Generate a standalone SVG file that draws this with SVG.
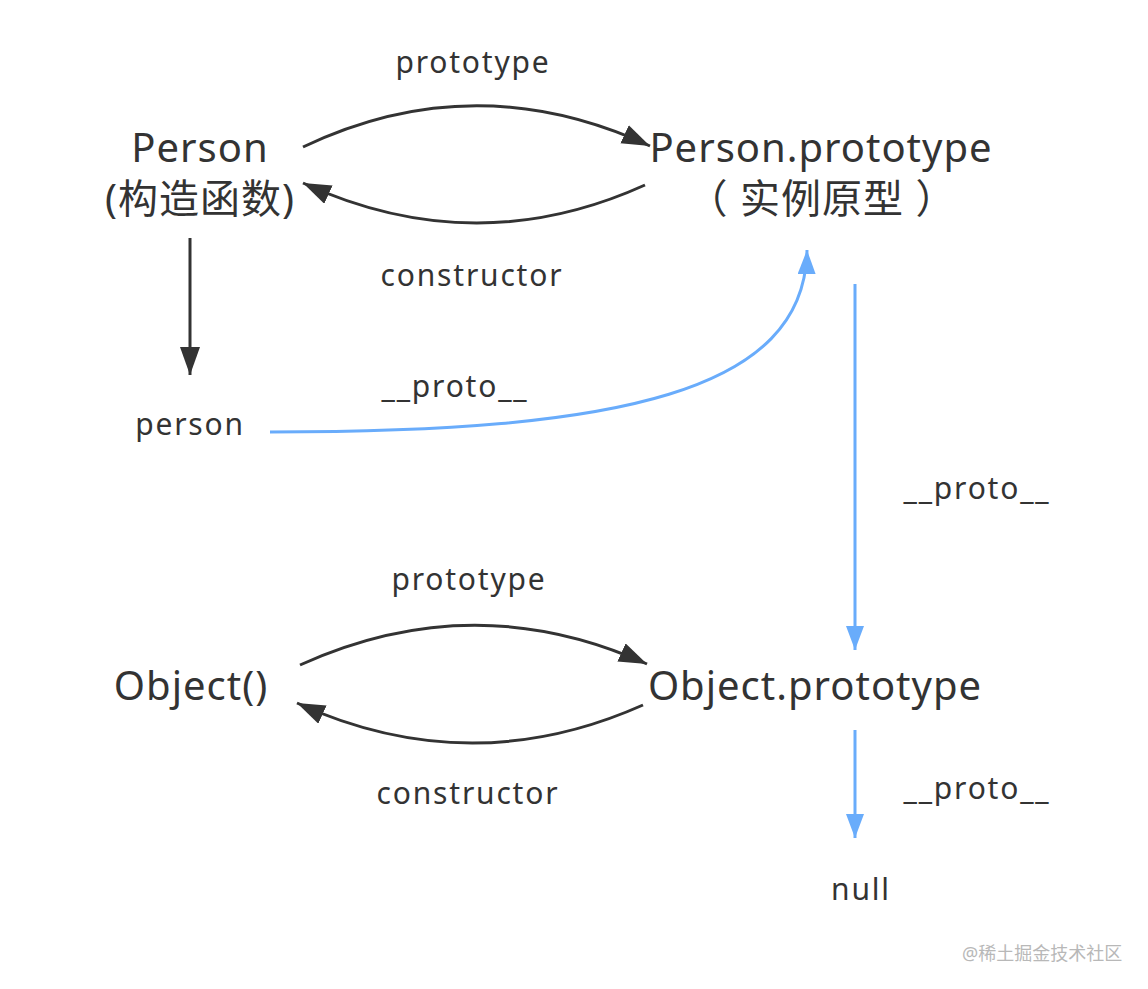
<svg xmlns="http://www.w3.org/2000/svg" width="1148" height="989" viewBox="0 0 1148 989">
<style>
text{font-family:"Noto Sans","Noto Sans CJK SC",sans-serif;fill:#333;text-anchor:middle}
.big{font-size:40px;letter-spacing:1px}
.lbl{font-size:30px;letter-spacing:1.8px}
.dk{fill:none;stroke:#333;stroke-width:3}
.bl{fill:none;stroke:#69acfb;stroke-width:3}
.wm{font-size:18px;fill:#b8b8b8;text-anchor:start}
</style>
<defs>
<marker id="ad" markerUnits="userSpaceOnUse" markerWidth="30" markerHeight="22" refX="28" refY="10" orient="auto"><path d="M0,0 L28,10 L0,20 z" fill="#333"/></marker>
<marker id="ab" markerUnits="userSpaceOnUse" markerWidth="26" markerHeight="20" refX="24" refY="9" orient="auto"><path d="M0,0 L24,9 L0,18 z" fill="#69acfb"/></marker>
</defs>
<rect width="1148" height="989" fill="#fff"/>
<g id="connectors">
<path class="dk" d="M303,147 Q475,65 650,146" marker-end="url(#ad)"/>
<path class="dk" d="M645,185 Q475,262 303,183" marker-end="url(#ad)"/>
<path class="dk" d="M190,238 L190,375" marker-end="url(#ad)"/>
<path class="bl" d="M270,432 C620,432 805,392 807,250" marker-end="url(#ab)"/>
<path class="bl" d="M855,284 L855,650" marker-end="url(#ab)"/>
<path class="dk" d="M300,665 Q474,586 647,664" marker-end="url(#ad)"/>
<path class="dk" d="M643,705 Q470,782 297,703" marker-end="url(#ad)"/>
<path class="bl" d="M855,730 L855,838" marker-end="url(#ab)"/>
</g>
<g id="labels">
<text class="lbl" x="473" y="73">prototype</text>
<text class="lbl" x="472" y="286">constructor</text>
<text class="lbl" x="455" y="397">__proto__</text>
<text class="lbl" x="977" y="499">__proto__</text>
<text class="lbl" x="469" y="590">prototype</text>
<text class="lbl" x="468" y="804">constructor</text>
<text class="lbl" x="977" y="799">__proto__</text>
</g>
<g id="node-person-ctor"><text class="big" x="200" y="162">Person</text><text class="big" x="200" y="213">(构造函数)</text></g>
<g id="node-person-prototype"><text class="big" x="821" y="162">Person.prototype</text><text class="big" x="822" y="213">（ 实例原型 ）</text></g>
<g id="node-person"><text class="lbl" x="190" y="435">person</text></g>
<g id="node-object"><text class="big" x="191" y="700">Object()</text></g>
<g id="node-object-prototype"><text class="big" x="815" y="700">Object.prototype</text></g>
<g id="node-null"><text class="lbl" x="861" y="900">null</text></g>
<text class="wm" x="962" y="960">@稀土掘金技术社区</text>
</svg>
